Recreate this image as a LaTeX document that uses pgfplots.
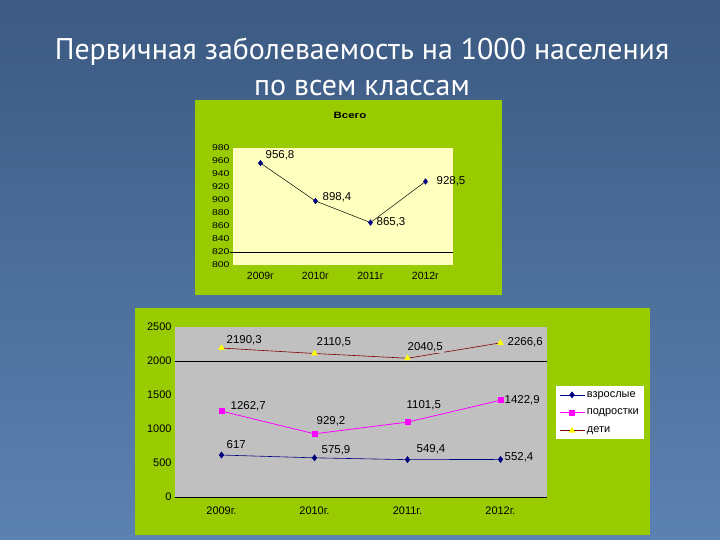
\documentclass[border=0pt]{standalone}
\usepackage{pgfplots}
\pgfplotsset{compat=1.18}
\usepackage{fontspec}
\setmainfont{Liberation Sans}
\newfontfamily\titlefont{PT Sans}
\definecolor{bgtop}{RGB}{60,90,130}
\definecolor{bgbot}{RGB}{92,130,178}
\definecolor{chartgreen}{RGB}{153,204,0}
\definecolor{plotyellow}{RGB}{255,255,192}
\definecolor{plotgray}{RGB}{192,192,192}
\definecolor{adultc}{RGB}{0,0,128}
\definecolor{teenc}{RGB}{255,0,255}
\definecolor{kidline}{RGB}{128,0,0}
\definecolor{kidmark}{RGB}{255,255,0}
\begin{document}
\begin{tikzpicture}
\useasboundingbox (0bp,0bp) rectangle (720bp,540bp);
\shade[top color=bgtop,bottom color=bgbot] (0bp,0bp) rectangle (720bp,540bp);
\node[font=\titlefont\fontsize{30}{36}\selectfont, text=white, align=center] at (362bp,473bp) {Первичная заболеваемость на 1000 населения\\по всем классам};
% ---------- top chart ----------
\fill[chartgreen] (195bp,245bp) rectangle (502bp,440bp);
\node[font=\bfseries\fontsize{11.5}{13}\selectfont] at (350bp,425bp) {\scalebox{1}[0.8]{Всего}};
\begin{axis}[
  at={(233bp,275bp)}, anchor=south west, scale only axis,
  width=220bp, height=117bp,
  xmin=-0.5, xmax=3.5, ymin=800, ymax=980,
  ytick={800,820,...,980},
  xtick={0,1,2,3}, xticklabels={2009г,2010г,2011г,2012г},
  axis background/.style={fill=plotyellow},
  axis line style={draw=none},
  tick style={draw=none},
  clip=false,
  tick label style={font=\fontsize{10.5}{11}\selectfont},
  yticklabel={\scalebox{1}[0.8]{\pgfmathprintnumber{\tick}}},
  xticklabel style={yshift=-4bp},
  /pgf/number format/assume math mode=true,
  /pgf/number format/1000 sep={},
]
\draw[black, line width=0.6pt] (axis cs:-0.56,820) -- (axis cs:3.5,820);
\addplot[color=black, line width=0.5pt, mark=diamond*, mark size=2.8, mark options={fill=adultc,draw=adultc}]
  coordinates {(0,956.8)(1,898.4)(2,865.3)(3,928.5)};
\begin{scope}[every node/.style={anchor=west, inner sep=0pt, font=\fontsize{11.5}{13}\selectfont}]
\node[xshift=5bp,yshift=8bp]  at (axis cs:0,956.8) {956,8};
\node[xshift=7bp,yshift=4bp]  at (axis cs:1,898.4) {898,4};
\node[xshift=6bp,yshift=0bp]  at (axis cs:2,865.3) {865,3};
\node[xshift=11bp,yshift=0bp] at (axis cs:3,928.5) {928,5};
\end{scope}
\end{axis}
% ---------- bottom chart ----------
\fill[chartgreen] (135bp,5bp) rectangle (650bp,232bp);
\begin{axis}[
  at={(175bp,43bp)}, anchor=south west, scale only axis,
  width=372bp, height=170bp,
  xmin=-0.5, xmax=3.5, ymin=0, ymax=2500,
  ytick={0,500,...,2500},
  xtick={0,1,2,3}, xticklabels={2009г.,2010г.,2011г.,2012г.},
  axis background/.style={fill=plotgray},
  axis line style={draw=none},
  tick style={draw=none},
  clip=false,
  tick label style={font=\fontsize{11}{13}\selectfont},
  xticklabel style={yshift=-6bp},
  /pgf/number format/assume math mode=true,
  /pgf/number format/1000 sep={},
  legend style={at={(1.024,0.653)}, anchor=north west, fill=white, draw=none,
    font=\fontsize{11}{13}\selectfont, row sep=6.5bp, inner sep=3bp},
  legend cell align=left,
  legend image code/.code={\draw[mark repeat=2,mark phase=2,#1] plot coordinates {(0bp,0bp)(12.5bp,0bp)(25bp,0bp)};},
]
\draw[black, line width=0.6pt] (axis cs:-0.5,2000) -- (axis cs:3.5,2000);
\draw[black, line width=0.6pt] (axis cs:-0.5,0) -- (axis cs:3.5,0);
\addplot[color=adultc, line width=0.6pt, mark=diamond*, mark size=3, mark options={fill=adultc}]
  coordinates {(0,617)(1,575.9)(2,549.4)(3,552.4)};
\addlegendentry{взрослые}
\addplot[color=teenc, line width=0.8pt, mark=square*, mark size=2.6, mark options={fill=teenc}]
  coordinates {(0,1262.7)(1,929.2)(2,1101.5)(3,1422.9)};
\addlegendentry{подростки}
\addplot[color=kidline, line width=0.6pt, mark=triangle*, mark size=3.2, mark options={fill=kidmark,draw=kidmark}]
  coordinates {(0,2190.3)(1,2110.5)(2,2040.5)(3,2266.6)};
\addlegendentry{дети}
\begin{scope}[every node/.style={anchor=west, inner sep=1pt, fill=plotgray, font=\fontsize{11.5}{13}\selectfont}]
\node[xshift=4bp,yshift=8bp]   at (axis cs:0,2190.3) {2190,3};
\node[xshift=1bp,yshift=11.5bp] at (axis cs:1,2110.5) {2110,5};
\node[xshift=-1bp,yshift=11bp] at (axis cs:2,2040.5) {2040,5};
\node[xshift=6bp,yshift=1bp]   at (axis cs:3,2266.6) {2266,6};
\node[xshift=8bp,yshift=5bp]   at (axis cs:0,1262.7) {1262,7};
\node[xshift=1bp,yshift=13bp]  at (axis cs:1,929.2) {929,2};
\node[xshift=-2bp,yshift=17bp] at (axis cs:2,1101.5) {1101,5};
\node[xshift=3bp,yshift=0bp]   at (axis cs:3,1422.9) {1422,9};
\node[xshift=4bp,yshift=10bp]  at (axis cs:0,617) {617};
\node[xshift=6bp,yshift=8bp]   at (axis cs:1,575.9) {575,9};
\node[xshift=8bp,yshift=10bp]  at (axis cs:2,549.4) {549,4};
\node[xshift=3bp,yshift=2bp]   at (axis cs:3,552.4) {552,4};
\end{scope}
\end{axis}
\end{tikzpicture}
\end{document}
